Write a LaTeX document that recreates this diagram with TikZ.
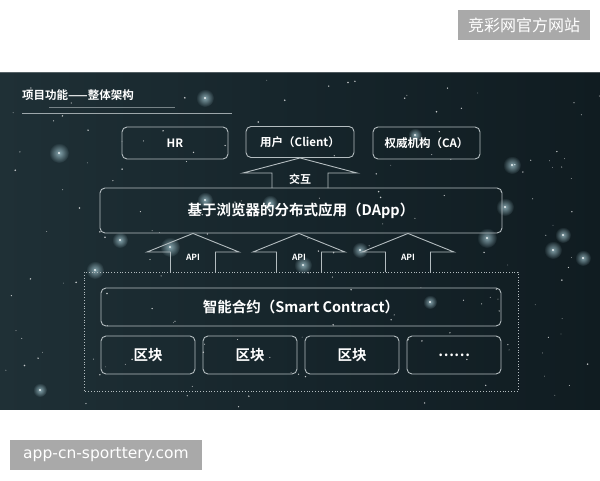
\documentclass[tikz,border=0pt]{standalone}
\usepackage{fontspec}
\setmainfont{Noto Sans CJK SC}[BoldFont={* Bold}]
\newfontfamily\markfont{DejaVu Sans}
\usetikzlibrary{calc,fadings}

\definecolor{bgleft}{HTML}{1F3036}
\definecolor{bgmid}{HTML}{16252B}
\definecolor{bgright}{HTML}{101C21}
\definecolor{boxline}{HTML}{B4BDC0}
\definecolor{glowc}{HTML}{BFE6F0}
\definecolor{markgray}{HTML}{A9A9A9}

\tikzfading[name=glowfade,inner color=transparent!35,outer color=transparent!100]

\tikzset{
  box/.style={draw=boxline,rounded corners=5pt,line width=0.9pt,text=white,font=\bfseries,inner sep=0pt},
  topbox/.style={box,minimum height=32pt,font=\bfseries\fontsize{11.5}{13}\selectfont},
  blockarrow/.style={draw=boxline,line width=0.9pt,line join=miter},
  label/.style={text=white,font=\bfseries,inner sep=0pt},
  markbox/.style={fill=markgray,text=white,inner sep=0pt}
}

\begin{document}
\begin{tikzpicture}[x=1pt,y=-1pt]
  \useasboundingbox (0,0) rectangle (600,480);

  % slide background
  \shade[left color=bgleft,right color=bgright,middle color=bgmid] (0,72) rectangle (600,409);
  \draw[white,opacity=0.25,line width=0.6pt] (0,72.3) -- (600,72.3);

  % stars
  \pgfmathsetseed{17}
  \foreach \k in {1,...,150}{
    \pgfmathsetmacro\sx{600*rnd}
    \pgfmathsetmacro\sy{74+333*rnd}
    \pgfmathsetmacro\sr{0.35+0.55*rnd}
    \fill[white,opacity=0.75] (\sx,\sy) circle (\sr pt);
  }

  % glows
  \foreach \gx/\gy/\gr in {205/98/9,59/153/10,170/247/10,95/270/9,120/240/8,205/200/8,
      270/203/8,303/265/9,360/250/8,487/238/10,505/207/9,553/250/9,563/235/8,583/258/8,
      415/135/7,512/165/9,430/302/7,40/390/7}{
    \fill[glowc,path fading=glowfade] (\gx,\gy) circle (\gr pt);
    \fill[white,opacity=0.85] (\gx,\gy) circle (1.1pt);
  }

  % title
  \node[label,anchor=west,font=\bfseries\fontsize{11.5}{13}\selectfont] (title) at (22,95) {项目功能——整体架构};
  \draw[boxline,opacity=0.6,line width=0.7pt] (49,107) -- (175,107);
  \draw[boxline,opacity=0.85,line width=0.7pt] (22,113) -- (232,113);

  % top row
  \node[topbox,minimum width=106pt] (hr) at (175,143) {HR};
  \node[topbox,minimum width=108pt,minimum height=31pt] (client) at (300,142) {用户（Client）};
  \node[topbox,minimum width=107pt] (ca) at (426.5,143) {权威机构（CA）};

  % dapp layer
  \node[box,minimum width=402pt,minimum height=45pt,font=\bfseries\fontsize{14.5}{16}\selectfont] (dapp) at (301,210.5) {基于浏览器的分布式应用（DApp）};

  % interaction arrow
  \node[label,font=\bfseries\fontsize{11}{12}\selectfont] (interact) at (300,179.5) {交互};
  \draw[blockarrow] (272,188) -- (272,173) -- (243,173) -- (client.south) -- (357,173) -- (328,173) -- (328,188);

  % chain frame
  \draw[boxline,dotted,line width=0.8pt] (84,272) rectangle (518,391);

  % api arrows
  \foreach \i/\x in {1/193,2/299,3/408}{
    \node[label,font=\bfseries\fontsize{8.5}{9}\selectfont] (api\i) at (\x,257) {API};
    \draw[blockarrow] (\x-22.5,272) -- (\x-22.5,252) -- (\x-46,252) -- (dapp.south -| api\i) -- (\x+46,252) -- (\x+22.5,252) -- (\x+22.5,272);
  }

  % smart contract
  \node[box,minimum width=400pt,minimum height=38pt,font=\bfseries\fontsize{14.5}{16}\selectfont] (contract) at (301,307) {智能合约（Smart Contract）};

  % blocks
  \begin{scope}[every node/.append style={box,minimum width=94pt,minimum height=38pt,font=\bfseries\fontsize{14.5}{16}\selectfont}]
    \node (block1) at (148,355) {区块};
    \node (block2) at (250,355) {区块};
    \node (block3) at (352,355) {区块};
    \node (block4) at (454,355) {……};
  \end{scope}

  % watermarks
  \node[markbox,minimum width=132pt,minimum height=30pt,font=\fontsize{16}{18}\selectfont] (sitemark) at (524,25) {竞彩网官方网站};
  \node[markbox,minimum width=192pt,minimum height=30pt,font=\markfont\fontsize{15.5}{18}\selectfont] (urlmark) at (106,455) {app-cn-sporttery.com};
\end{tikzpicture}
\end{document}
